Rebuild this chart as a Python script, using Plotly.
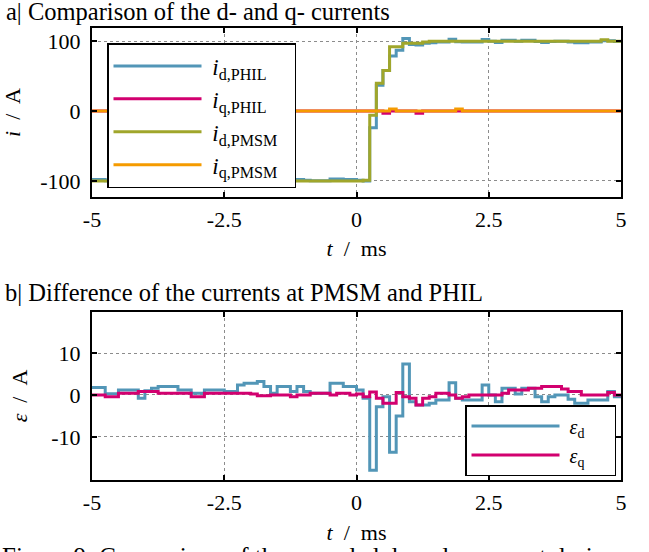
import plotly.graph_objects as go

# sampling grid (ms)
T_START = -5.0
T_STEP = 0.125
N = 81
t = [T_START + T_STEP * k for k in range(N)]

id_pmsm = [-100] * 40 + [-100, -99, -6, 40, 58, 92, 92, 97, 97, 97,
           99, 100, 100, 100, 100, 100, 100, 100, 100, 100,
           100, 100, 100, 100, 100, 100, 100, 100, 100, 100,
           100, 100, 100, 100, 100, 100, 100, 102, 100, 100, 100]

id_phil = [-98, -98, -99.7, -99.7, -99, -99, -99, -101, -99, -98,
           -98, -98, -98, -99, -99, -99.6, -99.6, -99, -99, -99,
           -99, -99, -97.6, -97.2, -97.2, -97, -98, -99.6, -98, -98,
           -99, -98, -99, -99.6, -99.6, -99.6, -97.2, -97.2, -98, -98,
           -99, -100, -24, 37, 58, 79, 87, 104, 95.4, 94.6,
           97, 98, 98.8, 98.8, 103, 99.2, 98.8, 98.8, 98.8, 102.4,
           100, 98.4, 101.6, 101.6, 100, 101.6, 101.6, 99.6, 98.4, 99.6,
           100, 100, 99, 98, 98, 98.8, 98.8, 100.8, 100.8, 99.6, 99.6]

iq_phil = [0] * 44 + [-3, 0, 0, 0, 0, -3] + [0] * 31
iq_pmsm = [0] * 45 + [3] + [0] * 9 + [3] + [0] * 25

eps_d = [1.8, 1.8, 0.3, 0.3, 1.2, 1.2, 1.2, -0.8, 1.0, 1.6,
         2.0, 2.0, 2.0, 1.2, 1.2, 0.4, 0.4, 1.2, 1.2, 1.2,
         0.8, 0.8, 2.4, 2.8, 2.8, 3.2, 2.0, 0.4, 2.0, 2.0,
         0.8, 2.0, 0.8, 0.4, 0.4, 0.4, 2.8, 2.8, 2.0, 2.0,
         1.2, -0.8, -18, -2.8, -0.4, -13.7, -5, 7.4, -1.6, -2.4,
         -2.4, -2.0, -1.2, -1.2, 2.9, -0.8, -1.2, -1.2, -1.2, 2.4,
         0, -1.6, 1.6, 1.6, 0.2, 1.6, 1.6, -0.4, -1.6, -0.4,
         0, 0, -1.0, -2.0, -2.0, -1.2, -1.2, -1.2, 0.8, -0.4, -0.4]

eps_q = [0, 0, -0.4, -0.4, 0.4, 0.4, 0.4, 0.8, 0.8, 0.8,
         0.4, 0.4, 0.4, 0.4, 0.4, -0.4, -0.4, 0.4, 0.4, 0.4,
         0.4, 0.4, 0.4, 0.4, 0.2, -0.2, -0.2, 0, 0, 0,
         -0.4, 0, 0, 0.4, 0.4, 0.4, 0, 0.4, 0.4, 0,
         0.2, -0.4, 0.7, -0.8, -2.0, -2.0, 0.6, -0.4, -0.8, -2.4,
         -0.8, -0.4, 0.4, 0.4, 0, -0.8, -0.4, 0, 0, 0,
         0, 0, 0.4, 1.2, 1.2, 1.2, 1.6, 1.6, 2.0, 2.0,
         2.0, 1.4, 0.8, 0.8, 0, 0, 0, 0, 0.6, 0, 0]

x_ticks = [-5, -2.5, 0, 2.5, 5]
x_ticklabels = ["-5", "-2.5", "0", "2.5", "5"]
yi_ticks = [-100, 0, 100]
yi_ticklabels = ["-100", "0", "100"]
ye_ticks = [-10, 0, 10]
ye_ticklabels = ["-10", "0", "10"]

BLUE = "#5296B7"
PINK = "#D2006F"
OLIVE = "#A0A62B"
ORANGE = "#F59B00"
FONT = "'Liberation Serif', 'Times New Roman', 'DejaVu Serif', serif"
LW = 3
SP = "&nbsp;"

fig = go.Figure()
series_top = [
    (id_phil, BLUE, "<i>i</i><sub>d,PHIL</sub>"),
    (iq_phil, PINK, "<i>i</i><sub>q,PHIL</sub>"),
    (id_pmsm, OLIVE, "<i>i</i><sub>d,PMSM</sub>"),
    (iq_pmsm, ORANGE, "<i>i</i><sub>q,PMSM</sub>"),
]
for i, (y, c, name) in enumerate(series_top):
    fig.add_trace(go.Scatter(x=t, y=y, mode="lines", line=dict(color=c, width=LW, shape="hv"),
                             name=SP + name + SP * 2, xaxis="x", yaxis="y", legend="legend",
                             legendgroup="g%d" % i))
series_bot = [
    (eps_d, BLUE, "<i>ε</i><sub>d</sub>"),
    (eps_q, PINK, "<i>ε</i><sub>q</sub>"),
]
for i, (y, c, name) in enumerate(series_bot):
    fig.add_trace(go.Scatter(x=t, y=y, mode="lines", line=dict(color=c, width=LW, shape="hv"),
                             name=SP + name + SP * 5, xaxis="x2", yaxis="y2", legend="legend2",
                             legendgroup="h%d" % i))

W, H = 649, 552
xdom = [92 / W, 621 / W]
ax_common = dict(showline=True, linecolor="black", linewidth=2, mirror="allticks",
                 ticks="inside", ticklen=5, tickcolor="black", tickwidth=1.5,
                 showgrid=True, gridcolor="#8c8c8c", gridwidth=1, griddash="dot",
                 zeroline=False, automargin=False,
                 tickfont=dict(family=FONT, size=22, color="black"))
TITLE_FONT = dict(family=FONT, size=22, color="black")
XTITLE = "<i>t</i>  /  ms"

fig.update_layout(
    width=W, height=H, margin=dict(l=0, r=0, t=0, b=0, autoexpand=False),
    paper_bgcolor="white", plot_bgcolor="white",
    font=dict(family=FONT, color="black"),
    xaxis=dict(domain=xdom, anchor="y", range=[-5, 5], tickvals=x_ticks, ticktext=x_ticklabels,
               ticklabelstandoff=2,
               title=dict(text=XTITLE, font=TITLE_FONT, standoff=9), **ax_common),
    yaxis=dict(domain=[1 - 197 / H, 1 - 28 / H], anchor="x", range=[-123, 119],
               tickvals=yi_ticks, ticktext=yi_ticklabels, ticklabelstandoff=5,
               title=dict(text="<i>i</i>  /  A", font=TITLE_FONT, standoff=18), **ax_common),
    xaxis2=dict(domain=xdom, anchor="y2", range=[-5, 5], tickvals=x_ticks, ticktext=x_ticklabels,
                ticklabelstandoff=2,
                title=dict(text=XTITLE, font=TITLE_FONT, standoff=10), **ax_common),
    yaxis2=dict(domain=[1 - 480 / H, 1 - 312 / H], anchor="x2", range=[-20.3, 19.8],
                tickvals=ye_ticks, ticktext=ye_ticklabels, ticklabelstandoff=5,
                title=dict(text="<i>ε</i>  /  A", font=TITLE_FONT, standoff=18), **ax_common),
    legend=dict(x=107 / W, y=1 - 43 / H, xanchor="left", yanchor="top",
                bgcolor="white", bordercolor="black", borderwidth=1.5,
                font=dict(family=FONT, size=23), itemwidth=88, traceorder="grouped",
                tracegroupgap=0),
    legend2=dict(x=465 / W, y=1 - 405 / H, xanchor="left", yanchor="top",
                 bgcolor="white", bordercolor="black", borderwidth=1.5,
                 font=dict(family=FONT, size=20), itemwidth=88, traceorder="grouped",
                 tracegroupgap=0),
    showlegend=True,
    annotations=[
        dict(text="a| Comparison of the d- and q- currents", xref="paper", yref="paper",
             x=4 / W, y=1 - 11.5 / H, xanchor="left", yanchor="middle", showarrow=False,
             font=dict(family=FONT, size=24.5)),
        dict(text="b| Difference of the currents at PMSM and PHIL", xref="paper", yref="paper",
             x=3 / W, y=1 - 292 / H, xanchor="left", yanchor="middle", showarrow=False,
             font=dict(family=FONT, size=24.5)),
        dict(text="Figure 9: Comparison of the recorded d- and q-current during a", xref="paper", yref="paper",
             x=0, y=0, xanchor="left", yanchor="middle", yshift=-4, showarrow=False,
             font=dict(family=FONT, size=25)),
    ],
)

fig.write_html("out.html", config={"displayModeBar": False},
               post_script="document.body.style.margin='0';")
